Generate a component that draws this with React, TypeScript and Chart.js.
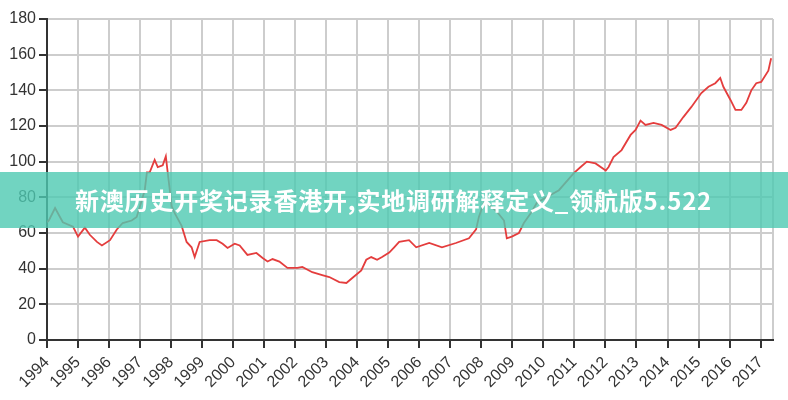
import React, { useEffect, useRef } from "react";
import { Chart, registerables } from "chart.js";

Chart.register(...registerables);

const dates: number[] = [
  1994.0, 1994.06, 1994.26, 1994.51, 1994.84, 1995.0, 1995.22, 1995.38, 1995.61, 1995.77,
  1996.03, 1996.25, 1996.44, 1996.73, 1996.89, 1996.99, 1997.15, 1997.22, 1997.31, 1997.47,
  1997.57, 1997.73, 1997.83, 1997.89, 1998.02, 1998.12, 1998.34, 1998.5, 1998.66, 1998.76,
  1998.92, 1999.24, 1999.47, 1999.66, 1999.82, 2000.05, 2000.21, 2000.46, 2000.75, 2000.95,
  2001.11, 2001.27, 2001.49, 2001.75, 2002.07, 2002.23, 2002.55, 2002.87, 2003.1, 2003.42,
  2003.65, 2003.84, 2004.13, 2004.29, 2004.45, 2004.64, 2004.8, 2005.03, 2005.19, 2005.35,
  2005.67, 2005.9, 2006.32, 2006.73, 2007.18, 2007.6, 2007.83, 2007.92, 2008.08, 2008.31,
  2008.5, 2008.73, 2008.82, 2008.98, 2009.21, 2009.37, 2009.59, 2009.79, 2010.5, 2010.98,
  2011.2, 2011.4, 2011.68, 2012.01, 2012.1, 2012.26, 2012.52, 2012.81, 2012.97, 2013.13,
  2013.29, 2013.55, 2013.81, 2014.1, 2014.26, 2014.51, 2014.77, 2015.09, 2015.32, 2015.54,
  2015.7, 2015.8, 2016.03, 2016.19, 2016.38, 2016.54, 2016.7, 2016.86, 2017.02, 2017.25,
  2017.34,
];

const values: number[] = [
  66, 67, 74, 66, 63.5, 58, 63, 59, 55, 53,
  56, 62, 65.6, 67, 69, 74.6, 84, 94, 94, 101,
  97, 98, 103, 94, 75, 71, 64, 55, 52, 46.5,
  55, 56, 56, 54, 51.6, 54, 53, 47.7, 48.8, 46,
  44, 45.4, 44, 40.4, 40.4, 41, 38, 36.4, 35.3, 32.5,
  32, 34.8, 39, 45, 46.5, 45, 46.5, 49, 52, 55,
  56, 52, 54.4, 52, 54.4, 57, 62, 69, 77, 75,
  72, 67, 57, 58, 60, 65.6, 71, 77, 84, 93.6,
  97, 100, 99, 95, 97, 102.6, 106.5, 115, 117.8, 123,
  120.6, 121.7, 120.6, 117.8, 119, 125, 130.7, 138.5, 142, 144,
  147, 142, 134.6, 129, 129, 133, 140, 144, 144.7, 151,
  158,
];

const yearTicks: number[] = [
  1994, 1995, 1996, 1997, 1998, 1999, 2000, 2001, 2002, 2003, 2004, 2005,
  2006, 2007, 2008, 2009, 2010, 2011, 2012, 2013, 2014, 2015, 2016, 2017,
];

const bannerText = "新澳历史开奖记录香港开,实地调研解释定义_领航版5.522";

export default function App() {
  const ref = useRef<HTMLCanvasElement | null>(null);

  useEffect(() => {
    if (!ref.current) return;
    const points = dates.map((d, i) => ({ x: d, y: values[i] }));
    const chart = new Chart(ref.current, {
      type: "line",
      data: {
        datasets: [
          {
            data: points,
            borderColor: "#e43d3d",
            borderWidth: 1.8,
            pointRadius: 0,
            tension: 0,
            fill: false,
          },
        ],
      },
      options: {
        animation: false,
        responsive: false,
        maintainAspectRatio: false,
        layout: { padding: { top: 19, right: 15, left: 0, bottom: 0 } },
        plugins: { legend: { display: false }, tooltip: { enabled: false } },
        scales: {
          x: {
            type: "linear",
            min: 1994,
            max: 2017.4,
            afterBuildTicks: (scale: any) => {
              scale.ticks = [...yearTicks.map((v) => ({ value: v })), { value: 2017.4 }];
            },
            afterFit: (scale: any) => {
              scale.height = 60;
              scale.paddingLeft = 0;
              scale.paddingRight = 0;
            },
            ticks: {
              autoSkip: false,
              maxRotation: 45,
              minRotation: 45,
              padding: 5,
              color: "#333",
              font: { family: "'Liberation Sans', Arial, sans-serif", size: 16 },
              callback: (v: any) => (Number.isInteger(v) ? String(v) : ""),
            },
            grid: {
              color: "#cdcdcd",
              lineWidth: 2,
              tickLength: 8,
              tickWidth: 2,
              tickColor: (ctx: any) =>
                ctx.tick && Number.isInteger(ctx.tick.value) ? "#333" : "rgba(0,0,0,0)",
            },
            border: { color: "#333", width: 2 },
          },
          y: {
            min: 0,
            max: 180,
            afterFit: (scale: any) => {
              scale.width = 47;
              scale.paddingTop = 0;
              scale.paddingBottom = 0;
            },
            ticks: {
              stepSize: 20,
              padding: 3,
              color: "#333",
              font: { family: "'Liberation Sans', Arial, sans-serif", size: 16 },
            },
            grid: {
              color: "#cdcdcd",
              lineWidth: 2,
              tickLength: 8,
              tickWidth: 2,
              tickColor: "#333",
            },
            border: { color: "#333", width: 2 },
          },
        },
      },
    });
    return () => chart.destroy();
  }, []);

  return (
    <div style={{ position: "absolute", left: 0, top: 0, width: 788, height: 400, background: "#fff" }}>
      <canvas ref={ref} width={788} height={400} style={{ display: "block" }} />
      <div
        style={{
          position: "absolute",
          left: 0,
          top: 172,
          width: 788,
          height: 56,
          background: "rgba(78, 201, 177, 0.8)",
          display: "flex",
          alignItems: "center",
        }}
      >
        <span
          style={{
            marginLeft: 75,
            color: "#fff",
            fontFamily: "'Noto Sans CJK SC', 'Noto Sans', sans-serif",
            fontWeight: 700,
            fontSize: 24,
            letterSpacing: "0.8px",
            lineHeight: "24px",
            whiteSpace: "nowrap",
          }}
        >
          {bannerText}
        </span>
      </div>
    </div>
  );
}
